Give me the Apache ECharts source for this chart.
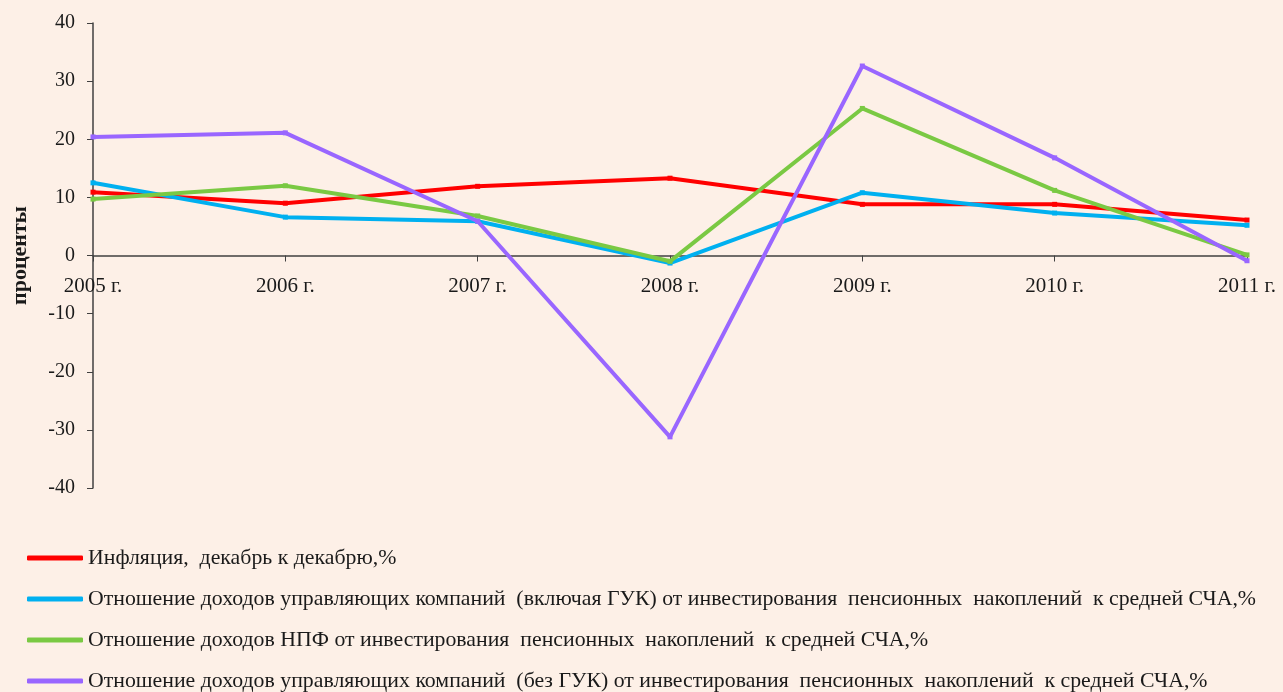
<!DOCTYPE html>
<html>
<head>
<meta charset="utf-8">
<script src="https://cdn.jsdelivr.net/npm/echarts@6/dist/echarts.min.js"></script>
<style>
  html, body { margin: 0; padding: 0; background: #fdf0e7; }
  #chart { width: 1283px; height: 692px; }
</style>
</head>
<body>
<div id="chart"></div>
<script>
// данные
let years = ['2005 г.', '2006 г.', '2007 г.', '2008 г.', '2009 г.', '2010 г.', '2011 г.'];
let inflation = [10.9, 9.0, 11.9, 13.3, 8.8, 8.8, 6.1];
let ukWithGuk = [12.5, 6.6, 5.9, -1.3, 10.8, 7.3, 5.2];
let npf = [9.7, 12.0, 6.8, -1.0, 25.3, 11.2, 0.1];
let ukNoGuk = [20.4, 21.1, 5.9, -31.2, 32.6, 16.8, -0.9];

let names = [
    'Инфляция,  декабрь к декабрю,%',
    'Отношение доходов управляющих компаний  (включая ГУК) от инвестирования  пенсионных  накоплений  к средней СЧА,%',
    'Отношение доходов НПФ от инвестирования  пенсионных  накоплений  к средней СЧА,%',
    'Отношение доходов управляющих компаний  (без ГУК) от инвестирования  пенсионных  накоплений  к средней СЧА,%'
];
let colors = ['#ff0000', '#00b0f0', '#7ac943', '#9966ff'];
let font = '"Liberation Serif", "Times New Roman", serif';

function makeLine(i, data) {
    return {
        name: names[i],
        type: 'line',
        data: data,
        symbol: 'rect',
        symbolSize: 5,
        lineStyle: { width: 4, color: colors[i] },
        itemStyle: { color: colors[i] },
        z: 2 + i
    };
}

let chart = echarts.init(document.getElementById('chart'));
let option = {
    backgroundColor: '#fdf0e7',
    animation: false,
    grid: { left: 93, right: 36, top: 23, bottom: 204 },
    legend: {
        orient: 'vertical',
        left: 27,
        top: 547,
        height: 170,
        padding: 0,
        icon: 'roundRect',
        itemWidth: 56,
        itemHeight: 5,
        itemGap: 19,
        textStyle: { fontFamily: font, fontSize: 21.8, color: '#1a1a1a' },
        data: names
    },
    xAxis: {
        type: 'category',
        data: years,
        boundaryGap: false,
        offset: -232.5,
        axisLine: { onZero: false, lineStyle: { color: '#404040', width: 1.5 } },
        axisTick: { show: true, length: 6, lineStyle: { color: '#404040' } },
        axisLabel: { fontFamily: font, fontSize: 21, color: '#1a1a1a', margin: 20 }
    },
    yAxis: {
        type: 'value',
        min: -40,
        max: 40,
        interval: 10,
        name: 'проценты',
        nameLocation: 'middle',
        nameGap: 62,
        nameTextStyle: { fontFamily: font, fontSize: 22, fontWeight: 'bold', color: '#1a1a1a' },
        splitLine: { show: false },
        axisLine: { show: true, lineStyle: { color: '#404040', width: 1.5 } },
        axisTick: { show: true, length: 6, lineStyle: { color: '#404040' } },
        axisLabel: { fontFamily: font, fontSize: 20, color: '#1a1a1a', margin: 18 }
    },
    series: [
        makeLine(0, inflation),
        makeLine(1, ukWithGuk),
        makeLine(2, npf),
        makeLine(3, ukNoGuk)
    ]
};
chart.setOption(option);
</script>
</body>
</html>
